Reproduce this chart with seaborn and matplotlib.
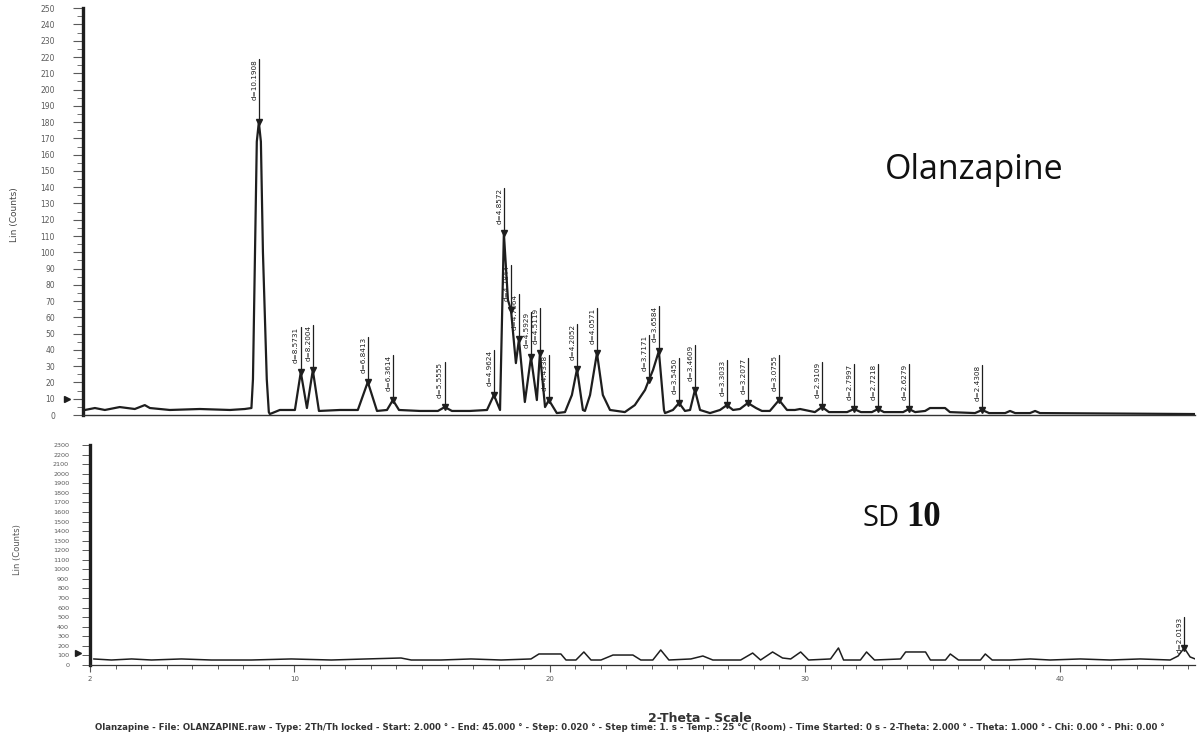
import numpy as np
import pandas as pd
import matplotlib
matplotlib.use("Agg")
import matplotlib.pyplot as plt
import seaborn as sns

# Cu K-alpha wavelength (Å) used to turn 2-theta into d-spacings
WAVELENGTH = 1.5406

# ---- Olanzapine powder pattern: 2-theta (deg) and intensity (counts) ----
olz_2theta = [1.87, 2.26, 2.65, 3.23, 3.82, 4.21, 4.41, 5.19, 6.36, 7.54, 8.12, 8.38,
              8.44, 8.52, 8.59, 8.67, 8.75, 8.83, 8.98, 9.06, 9.10, 9.49, 10.08, 10.31, 10.55,
              10.78, 11.02, 11.84, 12.54, 12.93, 13.29, 13.68, 13.91, 14.15, 14.97,
              15.67, 15.94, 16.22, 16.92, 17.59, 17.86, 18.10, 18.25, 18.41, 18.53,
              18.60, 18.72, 18.84, 19.07, 19.31, 19.54, 19.66, 19.86, 20.01, 20.32,
              20.64, 20.91, 21.11, 21.34, 21.42, 21.62, 21.89, 22.12, 22.40, 22.98,
              23.37, 23.77, 23.92, 24.08, 24.31, 24.51, 24.55, 24.86, 25.10, 25.33,
              25.53, 25.72, 25.92, 26.31, 26.70, 26.97, 27.21, 27.48, 27.79, 28.11,
              28.34, 28.65, 29.01, 29.32, 29.63, 29.83, 30.41, 30.69, 30.96, 31.67,
              31.94, 32.21, 32.64, 32.88, 33.11, 33.86, 34.09, 34.33, 34.72, 34.91,
              35.50, 35.69, 36.67, 36.95, 37.22, 37.85, 38.04, 38.24, 38.82, 39.02,
              39.21, 45.28]
olz_counts = [3.1, 4.3, 3.1, 4.9, 3.7, 6.1, 4.3, 3.1, 3.7, 3.1, 3.7, 4.3,
              22.0, 100.0, 168.0, 180.0, 168.0, 100.0, 22.0, 1.8, 0.6, 3.1, 3.1, 26.4, 4.3,
              27.6, 2.5, 3.1, 3.1, 20.3, 2.5, 3.1, 9.2, 3.1, 2.5,
              2.5, 4.9, 2.5, 2.5, 3.1, 12.3, 3.1, 111.8, 70.6, 64.5,
              52.2, 31.9, 46.7, 8.0, 35.6, 9.2, 38.1, 4.9, 9.2, 1.2,
              1.8, 12.3, 28.3, 3.1, 2.5, 12.3, 38.1, 12.3, 3.1, 1.8,
              6.1, 15.4, 21.5, 27.6, 39.3, 3.1, 1.2, 3.1, 7.4, 2.5,
              3.1, 15.4, 3.1, 1.2, 3.1, 6.1, 3.1, 3.7, 7.4, 4.3,
              2.5, 2.5, 9.2, 3.1, 3.1, 3.7, 1.8, 4.9, 1.8, 1.8,
              3.7, 1.8, 1.8, 3.7, 1.8, 1.8, 3.7, 1.8, 2.5, 4.3,
              4.3, 1.8, 1.2, 3.1, 1.2, 1.2, 2.5, 1.2, 1.2, 2.5,
              1.2, 0.6]

# labelled reflections of olanzapine
olz_peak_2theta = [8.67, 10.31, 10.78, 12.93, 13.91, 15.94, 17.86, 18.25, 18.53,
                   18.84, 19.31, 19.66, 20.01, 21.11, 21.89, 23.92, 24.31, 25.10,
                   25.72, 26.97, 27.79, 29.01, 30.69, 31.94, 32.88, 34.09, 36.95]
olz_peak_counts = [180.0, 26.4, 27.6, 20.3, 9.2, 4.9, 12.3, 111.8, 64.5,
                   46.7, 35.6, 38.1, 9.2, 28.3, 38.1, 21.5, 39.3, 7.4,
                   15.4, 6.1, 7.4, 9.2, 4.9, 3.7, 3.7, 3.7, 3.1]

# ---- SD 10 powder pattern ----
sd_2theta = [2.14, 2.84, 3.63, 4.41, 5.58, 6.75, 8.32, 9.88, 11.45, 12.82, 14.18,
             14.58, 15.75, 16.92, 18.10, 19.27, 19.58, 20.44, 20.64, 21.03, 21.34,
             21.62, 22.01, 22.48, 23.26, 23.57, 24.04, 24.35, 24.67, 25.53, 26.00,
             26.39, 27.48, 27.95, 28.26, 28.73, 29.12, 29.44, 29.83, 30.14, 31.00,
             31.31, 31.51, 32.17, 32.41, 32.72, 33.74, 33.94, 34.72, 34.91, 35.50,
             35.69, 36.01, 36.87, 37.06, 37.33, 38.04, 38.82, 39.60, 40.78, 41.95,
             43.13, 44.30, 44.61, 44.85, 45.08, 45.28]
sd_counts = [63, 52, 63, 52, 63, 52, 52, 63, 52, 63, 73,
             52, 52, 63, 52, 63, 115, 115, 52, 52, 136,
             52, 52, 104, 104, 52, 52, 157, 52, 63, 94,
             52, 52, 125, 52, 136, 73, 63, 136, 52, 63,
             178, 52, 52, 136, 52, 63, 136, 136, 52, 52,
             115, 52, 52, 115, 52, 52, 63, 52, 63, 52,
             63, 52, 94, 178, 84, 63]
sd_peak_2theta = [44.85]
sd_peak_counts = [178]

top_yticks = list(range(0, 251, 10))
bottom_yticks = list(range(0, 2301, 100))
bottom_xticks = [2, 10, 20, 30, 40]
bottom_xticklabels = ["2", "10", "20", "30", "40"]

INK = "#1e1e1e"
TICK_GREY = "#5a5a5a"

sns.set_style("white")
plt.rcParams["font.family"] = ["DejaVu Sans"]

fig = plt.figure(figsize=(12, 7.33), dpi=100)
fig.patch.set_facecolor("white")

ax_top = fig.add_axes([0.069, 0.4338, 0.927, 0.555])
ax_bot = fig.add_axes([0.075, 0.0928, 0.921, 0.300])

olz = pd.DataFrame({"two_theta": olz_2theta, "counts": olz_counts})
sd = pd.DataFrame({"two_theta": sd_2theta, "counts": sd_counts})

sns.lineplot(data=olz, x="two_theta", y="counts", ax=ax_top, sort=False,
             estimator=None, color=INK, linewidth=1.6)
sns.lineplot(data=sd, x="two_theta", y="counts", ax=ax_bot, sort=False,
             estimator=None, color=INK, linewidth=1.1)


def d_spacing(two_theta):
    return WAVELENGTH / (2.0 * np.sin(np.radians(two_theta / 2.0)))


def mark_peaks(ax, positions, heights, stem, tall_stem=None):
    tallest = max(heights)
    for t, c in zip(positions, heights):
        s = tall_stem if (tall_stem is not None and c == tallest) else stem
        top = c + s
        ax.plot([t, t], [c, top], color=INK, linewidth=0.9)
        ax.plot([t], [c], marker="v", markersize=4, color=INK, linestyle="none")
        ax.annotate(f"d={d_spacing(t):.4f}", xy=(t, top), xytext=(-1.2, 0),
                    textcoords="offset points", rotation=90, ha="right", va="top",
                    fontsize=5.2, color=INK)


mark_peaks(ax_top, olz_peak_2theta, olz_peak_counts, stem=27.5, tall_stem=38.5)
mark_peaks(ax_bot, sd_peak_2theta, sd_peak_counts, stem=320)

# ---- top panel axes ----
ax_top.set_xlim(1.787, 45.28)
ax_top.set_ylim(0, 250)
ax_top.set_yticks(top_yticks)
ax_top.set_yticklabels([str(v) for v in top_yticks])
ax_top.set_yticks(np.arange(5, 250, 10), minor=True)
ax_top.set_xticks([])
ax_top.set_xlabel("")
ax_top.set_ylabel("")
ax_top.tick_params(axis="y", which="major", direction="out", length=7, width=0.8,
                   colors=TICK_GREY, labelsize=5.5, pad=13, left=True)
ax_top.tick_params(axis="y", which="minor", direction="out", length=4, width=0.6,
                   colors=TICK_GREY, left=True)
for side in ("top", "right"):
    ax_top.spines[side].set_visible(False)
ax_top.spines["left"].set_linewidth(2.4)
ax_top.spines["left"].set_color(INK)
ax_top.spines["bottom"].set_linewidth(1.0)
ax_top.spines["bottom"].set_color("#333333")
ax_top.plot([-0.014], [10], marker=">", markersize=4, color=INK, clip_on=False,
            transform=ax_top.get_yaxis_transform())

# ---- bottom panel axes ----
ax_bot.set_xlim(2.06, 45.28)
ax_bot.set_ylim(0, 2300)
ax_bot.set_yticks(bottom_yticks)
ax_bot.set_yticklabels([str(v) for v in bottom_yticks])
ax_bot.set_xticks(bottom_xticks)
ax_bot.set_xticklabels(bottom_xticklabels)
ax_bot.set_xticks(np.arange(3, 46, 1), minor=True)
ax_bot.set_xlabel("")
ax_bot.set_ylabel("")
ax_bot.tick_params(axis="y", which="major", direction="out", length=6, width=0.7,
                   colors=TICK_GREY, labelsize=4.6, pad=9, left=True)
ax_bot.tick_params(axis="x", which="major", direction="out", length=5, width=0.8,
                   colors=TICK_GREY, labelsize=5, pad=3, bottom=True)
ax_bot.tick_params(axis="x", which="minor", direction="out", length=3, width=0.7,
                   colors=TICK_GREY, bottom=True)
for side in ("top", "right"):
    ax_bot.spines[side].set_visible(False)
ax_bot.spines["left"].set_linewidth(2.4)
ax_bot.spines["left"].set_color(INK)
ax_bot.spines["bottom"].set_linewidth(0.9)
ax_bot.spines["bottom"].set_color("#333333")
ax_bot.plot([-0.011], [125], marker=">", markersize=4, color=INK, clip_on=False,
            transform=ax_bot.get_yaxis_transform())

# ---- annotations ----
fig.text(0.0125, 1 - 215 / 733, "Lin (Counts)", rotation=90, ha="center",
         va="center", fontsize=6.5, color="#444444")
fig.text(0.0145, 1 - 550 / 733, "Lin (Counts)", rotation=90, ha="center",
         va="center", fontsize=6, color="#555555")

fig.text(885 / 1200, 1 - 170 / 733, "Olanzapine", ha="left", va="center",
         fontsize=24.5, family="Open Sans", color="#111111")
fig.text(862 / 1200, 1 - 518 / 733, "SD", ha="left", va="center",
         fontsize=21, family="Open Sans", color="#111111")
fig.text(906 / 1200, 1 - 518 / 733, "10", ha="left", va="center",
         fontsize=25, family="Liberation Serif", fontweight="bold", color="#111111")

fig.text(700 / 1200, 1 - 718 / 733, "2-Theta - Scale", ha="center", va="center",
         fontsize=9, fontweight="bold", color="#333333")
fig.text(95 / 1200, 1 - 727 / 733,
         "Olanzapine - File: OLANZAPINE.raw - Type: 2Th/Th locked - Start: 2.000 ° - "
         "End: 45.000 ° - Step: 0.020 ° - Step time: 1. s - Temp.: 25 °C (Room) - "
         "Time Started: 0 s - 2-Theta: 2.000 ° - Theta: 1.000 ° - Chi: 0.00 ° - Phi: 0.00 °",
         ha="left", va="center", fontsize=6.2, fontweight="bold", color="#333333")

fig.savefig("out.png", dpi=100, facecolor="white")
